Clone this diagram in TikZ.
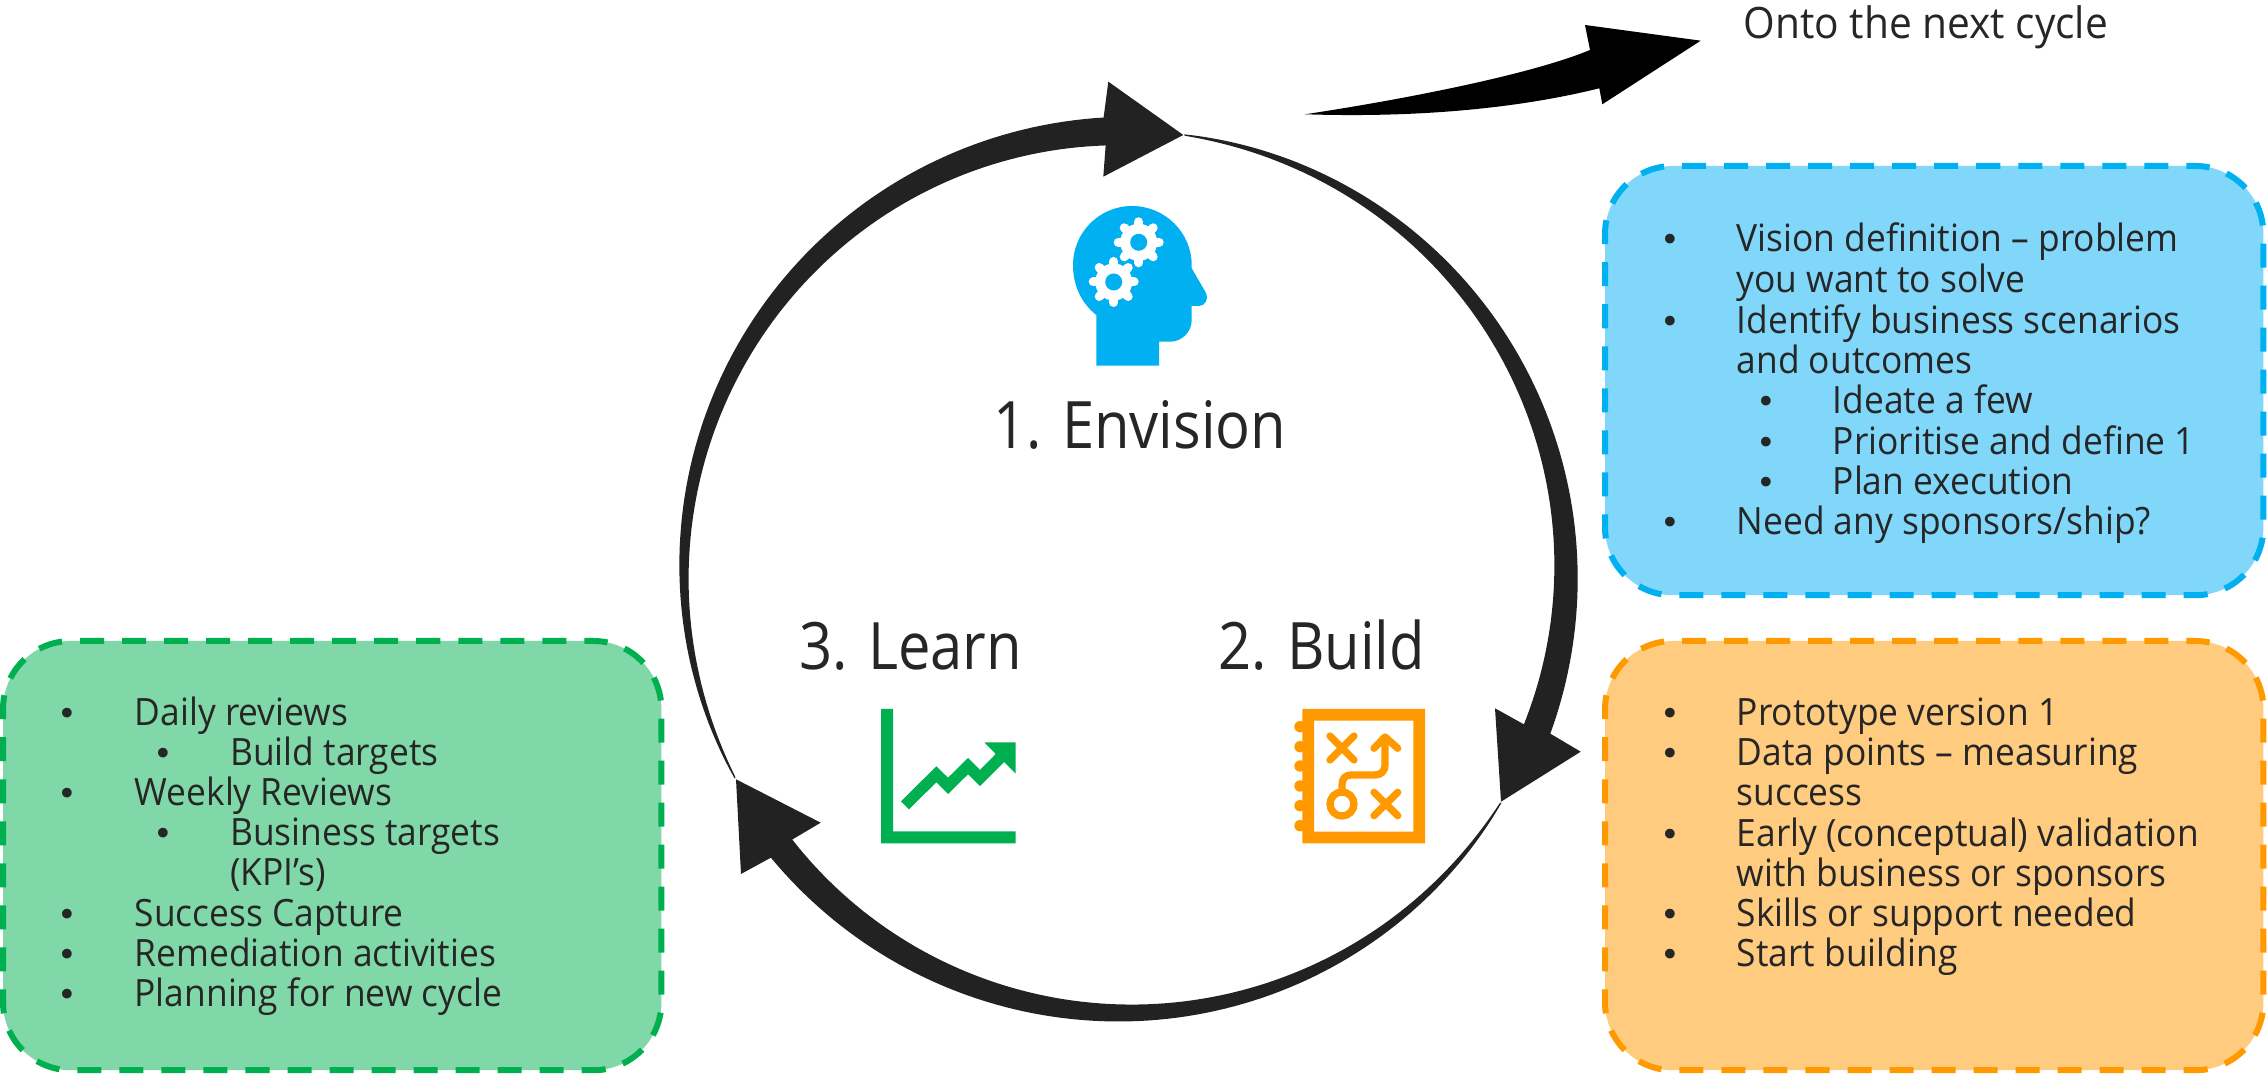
\documentclass[tikz,border=0pt]{standalone}
\usepackage{fontspec}
\setmainfont{Open Sans}[FakeStretch=0.94]
\newfontfamily\bigfont{Open Sans}[FakeStretch=0.885]
\newfontfamily\bulfont{DejaVu Sans}
\definecolor{ink}{HTML}{262626}
\definecolor{ringc}{HTML}{222222}
\definecolor{bluS}{HTML}{00B0F0}
\definecolor{bluF}{HTML}{80D7FA}
\definecolor{oraS}{HTML}{FF9900}
\definecolor{oraF}{HTML}{FFCB7F}
\definecolor{greS}{HTML}{00B050}
\definecolor{greF}{HTML}{80D8A8}
\tikzset{
  declare function={rw(\t)=1.2+26.8*pow(\t,0.85);},
  card/.style={rectangle,rounded corners=0.68cm,line width=0.06cm,dash pattern=on 0.24cm off 0.18cm,dash phase=0.15cm,minimum width=6.58cm,minimum height=4.29cm,inner sep=0,outer sep=0,anchor=north west},
  txt/.style={anchor=base west,inner sep=0,text=ink,font=\fontsize{10.7}{12}\selectfont},
  bul/.style={anchor=base,inner sep=0,text=ink,font=\bulfont\fontsize{9.5}{11}\selectfont},
  big/.style={anchor=base west,inner sep=0,text=ink,font=\bigfont\fontsize{18.6}{22}\selectfont},
  iconline/.style={oraS,line width=0.073cm,line cap=round,line join=round},
}
\newcommand{\ringarrow}[6]{% start, end, outer corner, tip, inner corner, name
  \fill[ringc] plot[domain=0.001:1,samples=90] ({1125+(441+rw(\x)/2)*cos(#1+\x*(#2-(#1)))},{572+(441+rw(\x)/2)*sin(#1+\x*(#2-(#1)))})
    -- (#3) -- (#4) -- (#5)
    -- plot[domain=1:0.001,samples=90] ({1125+(441-rw(\x)/2)*cos(#1+\x*(#2-(#1)))},{572+(441-rw(\x)/2)*sin(#1+\x*(#2-(#1)))}) -- cycle;
}
\newcommand{\gearicon}[2]{%
  \fill[white] (#1,#2) circle (18.5);
  \foreach \a in {0,45,...,315}{\draw[white,line width=0.09cm,line cap=round] (#1,#2) -- ++(\a:20.5);}
  \fill[bluS] (#1,#2) circle (8.5);
}
\newcommand{\bl}[5]{% bullet x, text x, baseline, name, text
  \node[bul] (#4b) at (#1,#3) {•};
  \node[txt] (#4) at (#2,#3) {#5};
}
\newcommand{\cl}[4]{\node[txt] (#3) at (#1,#2) {#4};}
\begin{document}
\begin{tikzpicture}[x=0.01cm,y=-0.01cm]
\useasboundingbox (0,0) rectangle (2267,1074);
\fill[white] (0,0) rectangle (2267,1074);

% ring
\coordinate (h1o) at (1108.3,81.7);  \coordinate (h1t) at (1183.3,135);  \coordinate (h1i) at (1103.3,176.7);
\coordinate (h2o) at (1580.7,751.7); \coordinate (h2t) at (1501,801.7);  \coordinate (h2i) at (1495,708.3);
\coordinate (h3o) at (741,874);      \coordinate (h3t) at (736,779.3);   \coordinate (h3i) at (820.7,822.7);
\ringarrow{152}{267.4}{h1o}{h1t}{h1i}{a}
\ringarrow{-82.4}{20.9}{h2o}{h2t}{h2i}{b}
\ringarrow{31.4}{141.2}{h3o}{h3t}{h3i}{c}

% next-cycle arrow
\fill[black] (1305,114.3) .. controls (1400,100) and (1530,75) .. (1590,50) -- (1585,25) -- (1700.7,40.7) -- (1602.3,104.3) -- (1599.3,88.3) .. controls (1520,108) and (1420,118) .. (1305,114.3) -- cycle;
\node[anchor=base west,inner sep=0,text=ink,font=\fontsize{12.3}{14}\selectfont] (next) at (1743,39) {Onto the next cycle};

% cards
\node[card,draw=bluS,fill=bluF] (blue) at (1605,166) {};
\node[card,draw=oraS,fill=oraF] (orange) at (1605,641) {};
\node[card,draw=greS,fill=greF] (green) at (3,641) {};

% blue text
\bl{1670}{1736}{252}{b1}{Vision definition – problem}
\cl{1736}{293}{b1x}{you want to solve}
\bl{1670}{1736}{334}{b2}{Identify business scenarios}
\cl{1736}{374}{b2x}{and outcomes}
\bl{1766}{1832}{414}{b3}{Ideate a few}
\bl{1766}{1832}{455}{b4}{Prioritise and define 1}
\bl{1766}{1832}{495}{b5}{Plan execution}
\bl{1670}{1736}{535}{b6}{Need any sponsors/ship?}

% orange text
\bl{1670}{1736}{726}{o1}{Prototype version 1}
\bl{1670}{1736}{766}{o2}{Data points – measuring}
\cl{1736}{806}{o2x}{success}
\bl{1670}{1736}{847}{o3}{Early (conceptual) validation}
\cl{1736}{887}{o3x}{with business or sponsors}
\bl{1670}{1736}{927}{o4}{Skills or support needed}
\bl{1670}{1736}{967}{o5}{Start building}

% green text
\bl{67.7}{134}{726}{g1}{Daily reviews}
\bl{163.7}{229.5}{766}{g2}{Build targets}
\bl{67.7}{134}{806}{g3}{Weekly Reviews}
\bl{163.7}{229.5}{846}{g4}{Business targets}
\cl{229.5}{886}{g4x}{(KPI’s)}
\bl{67.7}{134}{927}{g5}{Success Capture}
\bl{67.7}{134}{967}{g6}{Remediation activities}
\bl{67.7}{134}{1007}{g7}{Planning for new cycle}

% labels
\node[big] (env) at (993,449) {1. Envision};
\node[big] (bui) at (1218,670) {2. Build};
\node[big] (lea) at (799,670) {3. Learn};

% head icon
\fill[bluS] (1096.3,365.7) -- (1096.3,315) .. controls (1081,303) and (1073,285) .. (1073,265) .. controls (1073,232.4) and (1099.4,206) .. (1132,206) .. controls (1164.6,206) and (1191.7,232.4) .. (1191.7,265) -- (1191.7,268.3) -- (1206,293) .. controls (1209,299) and (1205,306) .. (1199,306) -- (1191.7,306) -- (1191.7,320) .. controls (1191.7,332) and (1182,341.7) .. (1170,341.7) -- (1159,341.7) -- (1159,365.7) -- cycle;
\gearicon{1138.7}{242.3}
\gearicon{1113.7}{282}

% build icon
\fill[oraS,even odd rule] (1302.3,709) rectangle (1425,843.3) (1314,720.7) rectangle (1413.3,831.7);
\foreach \yy in {726.7,746.7,766,786,805.7,825.7}{\fill[oraS] (1300,\yy) circle (5.7);}
\draw[iconline] (1330,736) -- (1354,760) (1354,736) -- (1330,760);
\draw[iconline] (1374,792.3) -- (1397.7,815.7) (1397.7,792.3) -- (1374,815.7);
\draw[iconline] (1342,804) circle (12);
\draw[iconline] (1342,792) -- (1342,785) .. controls (1342,779) and (1345,775) .. (1351,775) -- (1375,775) .. controls (1381,775) and (1385,771) .. (1385,765) -- (1385,738);
\draw[iconline] (1374,748.3) -- (1385,737) -- (1397.7,748.3);

% learn icon
\fill[greS] (881,709) -- (893,709) -- (893,831.3) -- (1015.7,831.3) -- (1015.7,843.3) -- (881,843.3) -- cycle;
\fill[greS] (901,801.3) -- (936.3,766.3) -- (948,777.7) -- (968,758) -- (980,770) -- (995.7,754) -- (984.3,742.3) -- (1015.7,742.3) -- (1015.7,773.7) -- (1004,762) -- (980,786) -- (968,774.3) -- (948,794) -- (936.3,782.3) -- (909,809.3) -- cycle;
\end{tikzpicture}
\end{document}
